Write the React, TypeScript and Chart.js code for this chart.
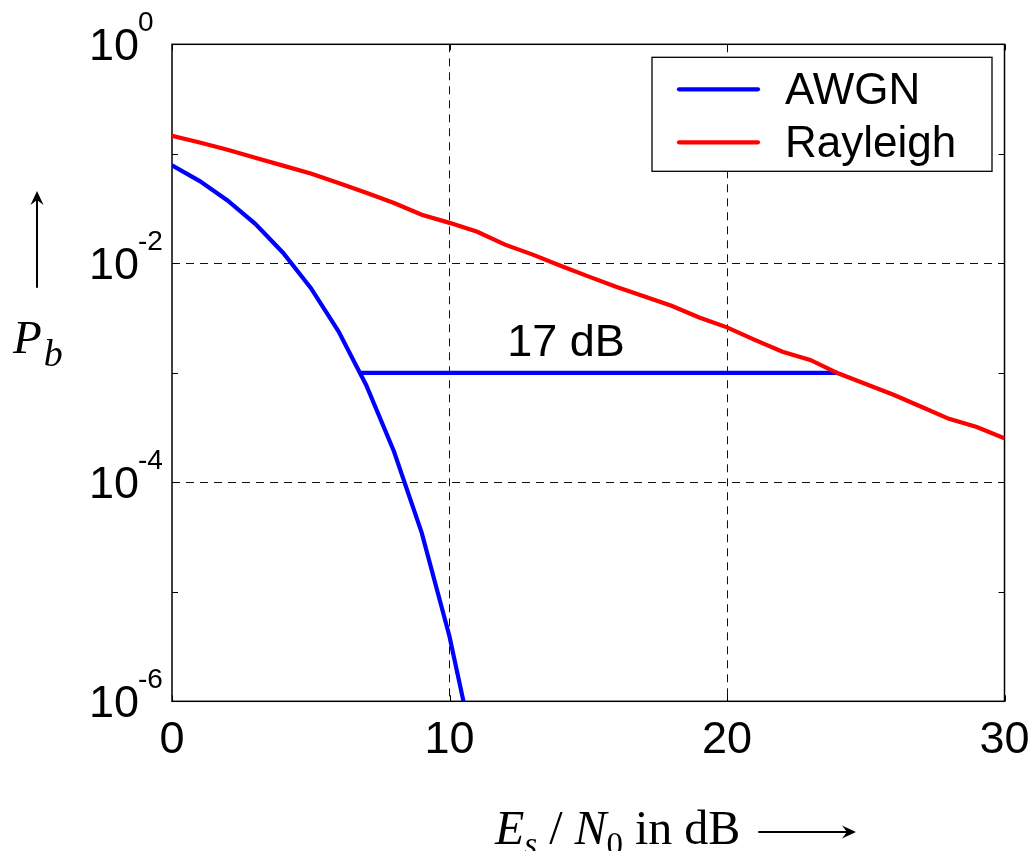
import React, { useEffect, useRef } from 'react';
import { Chart, registerables } from 'chart.js';

Chart.register(...registerables);

// ---- data ----
const snrDb = [0, 1, 2, 3, 4, 5, 6, 7, 8, 9, 10, 11, 12, 13, 14, 15, 16, 17, 18, 19, 20, 21, 22, 23, 24, 25, 26, 27, 28, 29, 30];
const rayleighPb = [0.146, 0.127, 0.109, 0.092, 0.078, 0.066, 0.054, 0.044, 0.0355, 0.0278, 0.0234, 0.0194, 0.0148, 0.012, 0.0095, 0.0076, 0.0061, 0.005, 0.0041, 0.0032, 0.0026, 0.002, 0.00156, 0.00131, 0.00099, 0.00079, 0.00063, 0.00049, 0.00038, 0.00032, 0.000252];
const awgnDb = [0, 1, 2, 3, 4, 5, 6, 7, 8, 9, 10, 11];
const awgnPb = [0.0786, 0.0563, 0.0375, 0.0229, 0.0125, 0.00595, 0.00239, 0.00077, 0.000191, 0.0000345, 0.0000039, 0.00000026];
const gapX = [6.8, 24];
const gapY = [0.001, 0.001];
const gapLabel = '17 dB';
const gapLabelX = 14.2;
const seriesLabels = ['AWGN', 'Rayleigh'];
const seriesColors = ['#0000ff', '#ff0000'];
const xTicks = [0, 10, 20, 30];
const xGridTicks = [10, 20];
const yTicks = [1e-6, 1e-5, 1e-4, 1e-3, 1e-2, 1e-1, 1];
const yLabelTicks = [1e-6, 1e-4, 1e-2, 1];
const yLabelExps = ['-6', '-4', '-2', '0'];
const yGridTicks = [1e-4, 1e-2];

const SANS = '"Liberation Sans", Arial, Helvetica, sans-serif';
const SERIF = '"Liberation Serif", "Times New Roman", Times, serif';
const LINE_W = 4.2;

function drawArrow(ctx: CanvasRenderingContext2D, x1: number, y1: number, x2: number, y2: number) {
  const ang = Math.atan2(y2 - y1, x2 - x1);
  const hl = 14;
  const hw = 6.5;
  ctx.save();
  ctx.strokeStyle = '#000';
  ctx.fillStyle = '#000';
  ctx.lineWidth = 2;
  ctx.beginPath();
  ctx.moveTo(x1, y1);
  ctx.lineTo(x2 - Math.cos(ang) * hl * 0.6, y2 - Math.sin(ang) * hl * 0.6);
  ctx.stroke();
  ctx.beginPath();
  ctx.moveTo(x2, y2);
  ctx.lineTo(x2 - Math.cos(ang) * hl - Math.sin(ang) * hw, y2 - Math.sin(ang) * hl + Math.cos(ang) * hw);
  ctx.lineTo(x2 - Math.cos(ang) * hl * 0.65, y2 - Math.sin(ang) * hl * 0.65);
  ctx.lineTo(x2 - Math.cos(ang) * hl + Math.sin(ang) * hw, y2 - Math.sin(ang) * hl - Math.cos(ang) * hw);
  ctx.closePath();
  ctx.fill();
  ctx.restore();
}

const framePlugin = {
  id: 'frameTicks',
  beforeDatasetsDraw(chart: any) {
    const { ctx, chartArea: a, scales } = chart;
    const xs = scales.x;
    const ys = scales.y;
    ctx.save();
    ctx.strokeStyle = '#000';
    ctx.lineWidth = 1.5;
    ctx.strokeRect(a.left, a.top, a.right - a.left, a.bottom - a.top);
    ctx.lineWidth = 1;
    const tl = 6;
    ctx.beginPath();
    xTicks.forEach((v) => {
      const px = Math.round(xs.getPixelForValue(v)) + 0.5;
      ctx.moveTo(px, a.bottom);
      ctx.lineTo(px, a.bottom - tl);
      ctx.moveTo(px, a.top);
      ctx.lineTo(px, a.top + tl);
    });
    yTicks.forEach((v) => {
      const py = Math.round(ys.getPixelForValue(v)) + 0.5;
      ctx.moveTo(a.left, py);
      ctx.lineTo(a.left + tl, py);
      ctx.moveTo(a.right, py);
      ctx.lineTo(a.right - tl, py);
    });
    ctx.stroke();
    ctx.restore();
  },
  afterDraw(chart: any) {
    const { ctx, chartArea: a, scales } = chart;
    const xs = scales.x;
    const ys = scales.y;
    ctx.save();
    ctx.fillStyle = '#000';
    ctx.textBaseline = 'alphabetic';

    // x tick labels
    ctx.font = `45px ${SANS}`;
    ctx.textAlign = 'center';
    xTicks.forEach((v) => {
      ctx.fillText(String(v), xs.getPixelForValue(v), a.bottom + 52);
    });

    // y tick labels 10^n
    yLabelTicks.forEach((v, i) => {
      const py = ys.getPixelForValue(v);
      ctx.font = `45px ${SANS}`;
      ctx.textAlign = 'right';
      ctx.fillText('10', a.left - 33, py + 16);
      ctx.font = `28px ${SANS}`;
      ctx.textAlign = 'left';
      ctx.fillText(yLabelExps[i], a.left - 34, py - 13);
    });

    // annotation text
    ctx.font = `45px ${SANS}`;
    ctx.textAlign = 'center';
    ctx.fillText(gapLabel, xs.getPixelForValue(gapLabelX), ys.getPixelForValue(gapY[0]) - 17);

    // legend
    const lr = a.right - 12.5;
    const lt = a.top + 13;
    const lw = 340;
    const lh = 114;
    const ll = lr - lw;
    ctx.fillStyle = '#fff';
    ctx.fillRect(ll, lt, lw, lh);
    ctx.strokeStyle = '#000';
    ctx.lineWidth = 1.3;
    ctx.strokeRect(ll, lt, lw, lh);
    seriesLabels.forEach((lab, i) => {
      const yy = lt + 32 + i * 53;
      ctx.strokeStyle = seriesColors[i];
      ctx.lineWidth = LINE_W;
      ctx.lineCap = 'round';
      ctx.beginPath();
      ctx.moveTo(ll + 27, yy);
      ctx.lineTo(ll + 106, yy);
      ctx.stroke();
      ctx.fillStyle = '#000';
      ctx.font = `44px ${SANS}`;
      ctx.textAlign = 'left';
      ctx.fillText(lab, ll + 133, yy + 15);
    });

    // y axis title P_b with arrow
    ctx.textAlign = 'left';
    ctx.fillStyle = '#000';
    ctx.font = `italic 47px ${SERIF}`;
    ctx.fillText('P', 13, 353);
    const pw = ctx.measureText('P').width;
    ctx.font = `italic 38px ${SERIF}`;
    ctx.fillText('b', 13 + pw + 2, 366);
    drawArrow(ctx, 37, 287, 37, 191);

    // x axis title E_s / N_0 in dB with arrow
    let x = 495;
    const base = 844;
    const sub = 855;
    const parts: [string, string, number][] = [
      ['E', `italic 48px ${SERIF}`, base],
      ['s', `italic 33px ${SERIF}`, sub],
      [' / ', `48px ${SERIF}`, base],
      ['N', `italic 48px ${SERIF}`, base],
      ['0', `33px ${SERIF}`, sub],
      [' in dB', `48px ${SERIF}`, base],
    ];
    parts.forEach(([t, f, b]) => {
      ctx.font = f;
      ctx.fillText(t, x, b);
      x += ctx.measureText(t).width;
    });
    drawArrow(ctx, 759, 832, 856, 832);
    ctx.restore();
  },
};

export default function App() {
  const ref = useRef<HTMLCanvasElement | null>(null);
  useEffect(() => {
    if (!ref.current) return;
    const mk = (label: string, xsArr: number[], ysArr: number[], color: string) => ({
      label,
      data: xsArr.map((d, i) => ({ x: d, y: ysArr[i] })),
      borderColor: color,
      backgroundColor: color,
      borderWidth: LINE_W,
      pointRadius: 0,
      tension: 0,
      clip: 0,
    });
    const chart = new Chart(ref.current, {
      type: 'line',
      data: {
        datasets: [
          mk(seriesLabels[0], awgnDb, awgnPb, seriesColors[0]),
          mk(seriesLabels[1], snrDb, rayleighPb, seriesColors[1]),
          mk('gap', gapX, gapY, seriesColors[0]),
        ],
      },
      options: {
        animation: false,
        responsive: false,
        devicePixelRatio: 1,
        layout: { padding: { left: 172, right: 27.5, top: 44.3, bottom: 149.7 } },
        plugins: { legend: { display: false }, tooltip: { enabled: false } },
        scales: {
          x: {
            type: 'linear',
            min: 0,
            max: 30,
            afterBuildTicks: (s: any) => {
              s.ticks = xTicks.map((v) => ({ value: v }));
            },
            ticks: { display: false },
            grid: {
              drawTicks: false,
              lineWidth: 1,
              color: (c: any) => (c.tick && xGridTicks.includes(c.tick.value) ? '#111' : 'rgba(0,0,0,0)'),
            },
            border: { display: false, dash: [8, 6] },
          },
          y: {
            type: 'logarithmic',
            min: 1e-6,
            max: 1,
            afterBuildTicks: (s: any) => {
              s.ticks = yTicks.map((v) => ({ value: v }));
            },
            ticks: { display: false },
            grid: {
              drawTicks: false,
              lineWidth: 1,
              color: (c: any) => (c.tick && yGridTicks.includes(c.tick.value) ? '#111' : 'rgba(0,0,0,0)'),
            },
            border: { display: false, dash: [8, 6] },
          },
        },
      },
      plugins: [framePlugin],
    } as any);
    return () => chart.destroy();
  }, []);
  return (
    <div style={{ position: 'absolute', left: 0, top: 0, width: 1032, height: 851, background: '#fff' }}>
      <canvas ref={ref} width={1032} height={851} style={{ display: 'block' }} />
    </div>
  );
}
